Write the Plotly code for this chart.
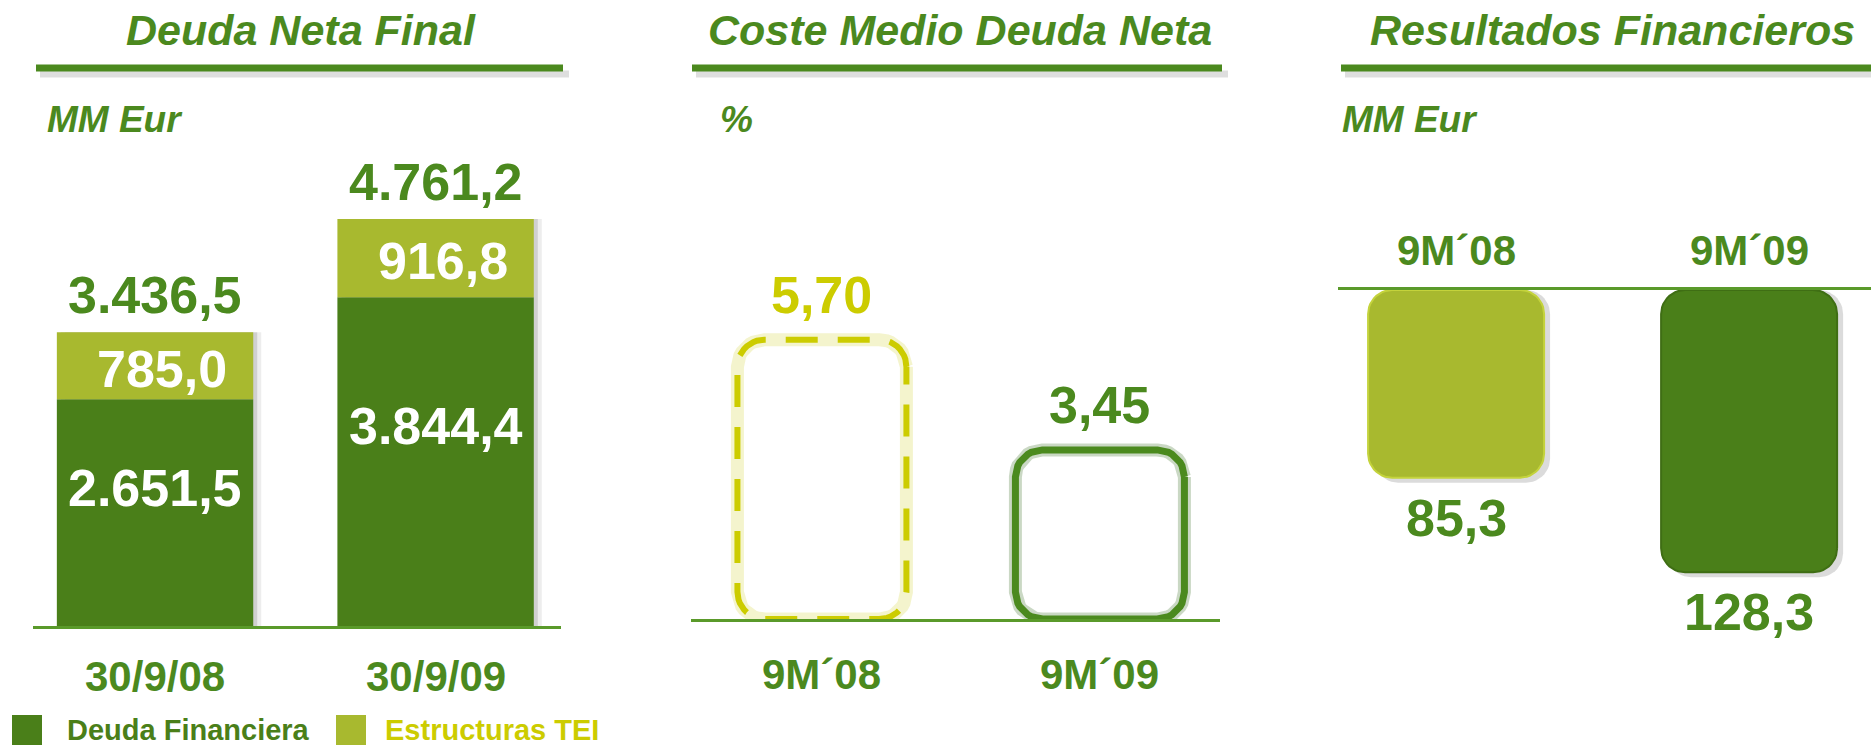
import numpy as np
import plotly.graph_objects as go

# ---- data ----
fechas = ["30/9/08", "30/9/09"]
deuda_financiera = [2651.5, 3844.4]
estructuras_tei = [785.0, 916.8]

periodos = ["9M´08", "9M´09"]
coste_medio = [5.70, 3.45]
resultados_fin = [85.3, 128.3]

# ---- look ----
W, H = 1871, 745
FONT = "Liberation Sans, Arial, sans-serif"
DARK = "#4A7F19"
LIGHT = "#A8B92F"
TXT = "#4B891E"
YELLOW = "#CCCC00"


def px(x):
    return x / W


def py(y):
    return 1 - y / H


def es(v, dec=1):
    """Spanish number format: 3.436,5"""
    s = f"{v:,.{dec}f}"
    return s.replace(",", "X").replace(".", ",").replace("X", ".")


def rounded_outline(xc, half_w, y0, y1, rx, ry, n=12):
    """Points round a rounded box in data units."""
    t = np.linspace(0, np.pi / 2, n)
    x0, x1 = xc - half_w, xc + half_w
    corners = [(x1 - rx, y1 - ry, 0.0), (x0 + rx, y1 - ry, np.pi / 2),
               (x0 + rx, y0 + ry, np.pi), (x1 - rx, y0 + ry, 1.5 * np.pi)]
    xs, ys = [], []
    for cx, cy, a0 in corners:
        xs.extend(cx + rx * np.cos(a0 + t))
        ys.extend(cy + ry * np.sin(a0 + t))
    xs.append(xs[0])
    ys.append(ys[0])
    return xs, ys


fig = go.Figure()
pos = [0, 1]

# ---- panel 1: Deuda Neta Final (stacked) ----
p1x, p1y = 280.5, 0.0855  # px per unit
bw1 = 0.70
totales = [a + b for a, b in zip(deuda_financiera, estructuras_tei)]
for dx, alpha in [(8, 0.07), (4, 0.12)]:
    fig.add_trace(go.Bar(x=pos, y=totales, width=bw1, offset=-bw1 / 2 + dx / p1x,
                         marker=dict(color=f"rgba(0,0,0,{alpha})", line_width=0),
                         xaxis="x", yaxis="y", hoverinfo="skip", showlegend=False))
fig.add_trace(go.Bar(x=pos, y=deuda_financiera, width=bw1, name="Deuda Financiera",
                     marker=dict(color=DARK, line_width=0), xaxis="x", yaxis="y",
                     hoverinfo="skip", showlegend=False))
fig.add_trace(go.Bar(x=pos, y=estructuras_tei, base=deuda_financiera, width=bw1,
                     name="Estructuras TEI", marker=dict(color=LIGHT, line_width=0),
                     xaxis="x", yaxis="y", hoverinfo="skip", showlegend=False))

# ---- panel 2: Coste Medio Deuda Neta (outlined boxes) ----
p2x, p2y = 278.0, 49.0
styles2 = [
    dict(color=YELLOW, glow="rgba(220,220,90,0.30)", dash="32px,20px", width=6),
    dict(color="#4B8A1E", glow="rgba(80,125,60,0.30)", dash="solid", width=7),
]
for i, v in enumerate(coste_medio):
    xs, ys = rounded_outline(pos[i], 84.5 / p2x, 0, v, 27 / p2x, 27 / p2y)
    st = styles2[i]
    fig.add_trace(go.Scatter(x=xs, y=ys, mode="lines", xaxis="x2", yaxis="y2",
                             line=dict(color=st["glow"], width=13),
                             hoverinfo="skip", showlegend=False))
    fig.add_trace(go.Scatter(x=xs, y=ys, mode="lines", xaxis="x2", yaxis="y2",
                             line=dict(color=st["color"], width=st["width"], dash=st["dash"]),
                             hoverinfo="skip", showlegend=False))

# ---- panel 3: Resultados Financieros (hanging boxes) ----
p3x, p3y = 293.0, 2.2
fills3 = [(LIGHT, "#C4D33C"), (DARK, "#3F6E14")]
for i, v in enumerate(resultados_fin):
    xs, ys = rounded_outline(pos[i] + 6 / p3x, 88 / p3x, 0, v + 5 / p3y, 24 / p3x, 24 / p3y)
    fig.add_trace(go.Scatter(x=xs, y=ys, mode="lines", fill="toself", xaxis="x3", yaxis="y3",
                             fillcolor="rgba(0,0,0,0.14)", line=dict(width=0),
                             hoverinfo="skip", showlegend=False))
    xs, ys = rounded_outline(pos[i], 88 / p3x, 0, v, 24 / p3x, 24 / p3y)
    fig.add_trace(go.Scatter(x=xs, y=ys, mode="lines", fill="toself", xaxis="x3", yaxis="y3",
                             fillcolor=fills3[i][0], line=dict(color=fills3[i][1], width=2),
                             hoverinfo="skip", showlegend=False))

# ---- annotations ----
ann = []


def note(text, x, y, xref, yref, size, color, yshift=0, xshift=0, italic=False,
         xanchor="center"):
    ann.append(dict(text=text, x=x, y=y, xref=xref, yref=yref, showarrow=False,
                    xanchor=xanchor, yanchor="middle", yshift=yshift, xshift=xshift,
                    font=dict(family=FONT, size=size, color=color, weight="bold",
                              style="italic" if italic else "normal")))


# panel 1 labels
for i in pos:
    note(es(deuda_financiera[i]), i, deuda_financiera[i] * 0.61, "x", "y", 52, "white")
    note(es(estructuras_tei[i]), i, deuda_financiera[i] + estructuras_tei[i] / 2, "x", "y",
         52, "white", xshift=7, yshift=-3)
    note(es(totales[i]), i, totales[i], "x", "y", 52, TXT, yshift=37)
    note(fechas[i], i, 0, "x", "y", 42, TXT, yshift=-50)

# panel 2 labels
for i in pos:
    note(es(coste_medio[i], 2), i, coste_medio[i], "x2", "y2", 52,
         YELLOW if i == 0 else TXT, yshift=45)
    note(periodos[i], i, 0, "x2", "y2", 42, TXT, yshift=-55)

# panel 3 labels
for i in pos:
    note(es(resultados_fin[i]), i, resultados_fin[i], "x3", "y3", 52, TXT, yshift=-40)
    note(periodos[i], i, 0, "x3", "y3", 42, TXT, yshift=40)

# titles and units
titles = [("Deuda Neta Final", 301, 36, 563, "MM Eur", 45),
          ("Coste Medio Deuda Neta", 960, 692, 1222, "%", 718),
          ("Resultados Financieros", 1612, 1341, 1871, "MM Eur", 1340)]
shapes = []
for title, cx, lx0, lx1, unit, ux in titles:
    note(title, px(cx), py(30), "paper", "paper", 43, TXT, italic=True)
    note(unit, px(ux), py(119), "paper", "paper", 37, TXT, italic=True, xanchor="left")
    shapes.append(dict(type="line", xref="paper", yref="paper", x0=px(lx0 + 4), x1=px(lx1 + 6),
                       y0=py(74), y1=py(74), line=dict(color="rgba(0,0,0,0.13)", width=7)))
    shapes.append(dict(type="line", xref="paper", yref="paper", x0=px(lx0), x1=px(lx1),
                       y0=py(68), y1=py(68), line=dict(color="#4B891E", width=7)))

# legend
legend_items = [("Deuda Financiera", DARK, DARK, 12, 65),
                ("Estructuras TEI", LIGHT, YELLOW, 336, 383)]
for name, fill, tcol, sx, tx in legend_items:
    shapes.append(dict(type="rect", xref="paper", yref="paper", x0=px(sx), x1=px(sx + 30),
                       y0=py(745), y1=py(715), fillcolor=fill, line_width=0))
    note(name, px(tx), py(730), "paper", "paper", 29, tcol, xanchor="left")

axis_common = dict(showgrid=False, zeroline=False, showticklabels=False, ticks="",
                   fixedrange=True)
fig.update_layout(
    width=W, height=H, margin=dict(l=0, r=0, t=0, b=0),
    paper_bgcolor="white", plot_bgcolor="rgba(0,0,0,0)",
    barmode="overlay", showlegend=False,
    xaxis=dict(domain=[px(33), px(561)], range=[-0.435, 1.447], anchor="y",
               showline=True, linecolor="#5A9A2A", linewidth=3, **axis_common),
    yaxis=dict(domain=[py(626), py(100)], range=[0, 526 / p1y], anchor="x",
               showline=False, **axis_common),
    xaxis2=dict(domain=[px(691), px(1220)], range=[-0.471, 1.432], anchor="y2",
                showline=True, linecolor="#5A9A2A", linewidth=3, **axis_common),
    yaxis2=dict(domain=[py(619), py(100)], range=[0, 519 / p2y], anchor="x2",
                showline=False, **axis_common),
    xaxis3=dict(domain=[px(1338), 1.0], range=[-0.403, 1.416], anchor="y3", side="top",
                showline=True, linecolor="#5A9A2A", linewidth=3, **axis_common),
    yaxis3=dict(domain=[py(700), py(290)], range=[410 / p3y, 0], anchor="x3",
                showline=False, **axis_common),
    annotations=ann,
    shapes=shapes,
)

fig.write_html("out.html", config={"displayModeBar": False},
               post_script="document.body.style.margin='0';document.body.style.overflow='hidden';")
